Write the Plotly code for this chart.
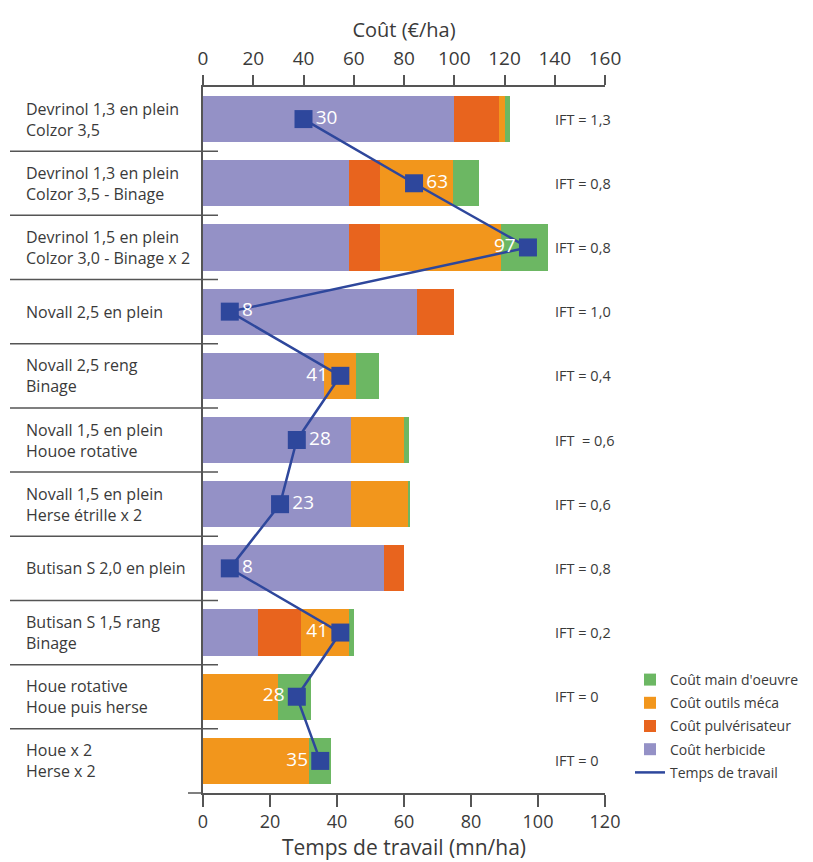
import plotly.graph_objects as go

categories = [
    "Devrinol 1,3 en plein<br>Colzor 3,5",
    "Devrinol 1,3 en plein<br>Colzor 3,5 - Binage",
    "Devrinol 1,5 en plein<br>Colzor 3,0 - Binage x 2",
    "Novall 2,5 en plein",
    "Novall 2,5 reng<br>Binage",
    "Novall 1,5 en plein<br>Houoe rotative",
    "Novall 1,5 en plein<br>Herse étrille x 2",
    "Butisan S 2,0 en plein",
    "Butisan S 1,5 rang<br>Binage",
    "Houe rotative<br>Houe puis herse",
    "Houe x 2<br>Herse x 2",
]
cout_herbicide = [100, 58, 58, 85, 48, 59, 59, 72, 22, 0, 0]
cout_pulverisateur = [18, 12.5, 12.5, 15, 0, 0, 0, 8, 17, 0, 0]
cout_outils = [2, 29, 48, 0, 13, 21, 22.5, 0, 19, 30, 42]
cout_main_oeuvre = [2, 10.5, 19, 0, 9, 2, 1, 0, 2, 13, 9]
temps_travail = [30, 63, 97, 8, 41, 28, 23, 8, 41, 28, 35]
label_side = ["middle right", "middle right", "middle left", "middle right", "middle left",
              "middle right", "middle right", "middle right", "middle left", "middle left", "middle left"]
ift = ["IFT = 1,3", "IFT = 0,8", "IFT = 0,8", "IFT = 1,0", "IFT = 0,4", "IFT \u00a0= 0,6",
       "IFT = 0,6", "IFT = 0,8", "IFT = 0,2", "IFT = 0", "IFT = 0"]

FONT = "Open Sans"
TXT = "#3a3a3a"
AX = "#555555"
LINE_COL = "#2E479C"

fig = go.Figure()
series = [
    ("Coût herbicide", cout_herbicide, "#9491C6", 4),
    ("Coût pulvérisateur", cout_pulverisateur, "#E8641E", 3),
    ("Coût outils méca", cout_outils, "#F2961C", 2),
    ("Coût main d'oeuvre", cout_main_oeuvre, "#6CB763", 1),
]
for name, vals, col, rank in series:
    fig.add_trace(go.Bar(
        y=categories, x=vals, name=name, orientation="h",
        marker=dict(color=col, line=dict(width=0)),
        xaxis="x", yaxis="y", legendrank=rank, legendgroup=name,
    ))

fig.add_trace(go.Scatter(
    y=categories, x=temps_travail, name="Temps de travail",
    mode="lines+markers+text", text=[str(v) for v in temps_travail],
    textposition=label_side,
    textfont=dict(color="white", size=19, family=FONT),
    line=dict(color=LINE_COL, width=2.5),
    marker=dict(symbol="square", size=18, color=LINE_COL),
    xaxis="x2", yaxis="y", showlegend=False,
))
# legend entry (line only)
fig.add_trace(go.Scatter(
    y=[None], x=[None], name="Temps de travail", mode="lines",
    line=dict(color=LINE_COL, width=2.5),
    xaxis="x2", yaxis="y", legendrank=5, legendgroup="tt",
))

W_PLOT = 402.0
H_PLOT = 706.0

def px2paper_x(px):
    return (px - 203) / W_PLOT

annotations = []
shapes = []
for i, (cat, t) in enumerate(zip(categories, ift)):
    annotations.append(dict(
        x=px2paper_x(24), xref="paper", y=cat, yref="y",
        text=cat, showarrow=False, xanchor="left", yanchor="middle", align="left",
        font=dict(family=FONT, size=16, color=TXT),
    ))
    annotations.append(dict(
        x=px2paper_x(553), xref="paper", y=cat, yref="y",
        text=t, showarrow=False, xanchor="left", yanchor="middle",
        font=dict(family=FONT, size=14.5, color=TXT),
    ))
    if i < len(categories) - 1:
        shapes.append(dict(
            type="line", xref="paper", yref="y",
            x0=px2paper_x(10), x1=px2paper_x(218), y0=i + 0.5, y1=i + 0.5,
            line=dict(color=AX, width=1.5),
        ))
shapes.append(dict(type="line", xref="paper", yref="paper",
                   x0=px2paper_x(188), x1=0, y0=0, y1=0, line=dict(color=AX, width=1.5)))

fig.update_layout(
    width=805, height=854,
    margin=dict(l=195, r=208, t=79, b=69, autoexpand=False),
    paper_bgcolor="white", plot_bgcolor="white",
    barmode="stack", bargap=0.28,
    font=dict(family=FONT, color=TXT),
    showlegend=True,
    legend=dict(
        x=px2paper_x(630), y=1 - (664 - 87) / H_PLOT, xanchor="left", yanchor="top",
        font=dict(family=FONT, size=14, color=TXT), itemwidth=30,
        traceorder="grouped", tracegroupgap=2, bgcolor="rgba(0,0,0,0)",
    ),
    xaxis=dict(
        range=[0, 160], dtick=20, side="top", showgrid=False, zeroline=False,
        showline=True, linecolor=AX, linewidth=1.5,
        ticks="outside", ticklen=10, tickwidth=1.5, tickcolor=AX,
        tickfont=dict(size=19, family=FONT, color=TXT), ticklabelstandoff=3,
        title=dict(text="Coût (€/ha)", font=dict(size=20, family=FONT, color=TXT), standoff=2),
        automargin=False,
    ),
    xaxis2=dict(
        range=[0, 120], dtick=20, side="bottom", overlaying="x", showgrid=False, zeroline=False,
        showline=True, linecolor=AX, linewidth=1.5,
        ticks="outside", ticklen=12, tickwidth=1.5, tickcolor=AX,
        tickfont=dict(size=18, family=FONT, color=TXT), ticklabelstandoff=0,
        title=dict(text="Temps de travail (mn/ha)", font=dict(size=21, family=FONT, color=TXT), standoff=2),
        automargin=False,
    ),
    yaxis=dict(
        range=[10.5, -0.5], showticklabels=False, showgrid=False, zeroline=False,
        showline=True, linecolor=AX, linewidth=1.5, ticks="", automargin=False,
    ),
    annotations=annotations,
    shapes=shapes,
)

fig.write_html("out.html")
